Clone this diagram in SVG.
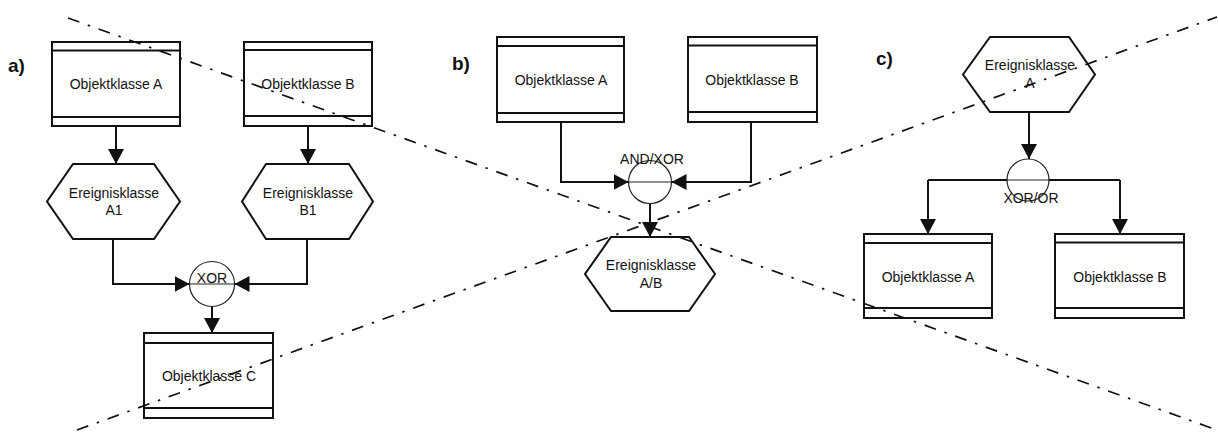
<svg xmlns="http://www.w3.org/2000/svg" width="1218" height="433" viewBox="0 0 1218 433">
<style>
.box{fill:#fff;stroke:#111;stroke-width:2}
.band{stroke:#111;stroke-width:1.8;fill:none}
.hex{fill:#fff;stroke:#111;stroke-width:2}
.t{font-family:"Liberation Sans",Arial,sans-serif;font-size:14px;fill:#111;text-anchor:middle}
.lbl{font-family:"Liberation Sans",Arial,sans-serif;font-size:19px;font-weight:bold;fill:#111}
.con{fill:none;stroke:#111;stroke-width:2}
.op{fill:#fff;stroke:#222;stroke-width:1.2}
.opl{stroke:#222;stroke-width:1}
.cut{fill:none;stroke:#111;stroke-width:1.7;stroke-dasharray:12 9 2.5 9}
</style>
<defs>
<marker id="arr" markerUnits="userSpaceOnUse" markerWidth="17" markerHeight="17" refX="15" refY="8" orient="auto">
<path d="M0,0 L15,8 L0,16 Z" fill="#111"/>
</marker>
</defs>

<text class="lbl" x="8" y="72">a)</text>
<text class="lbl" x="452" y="70">b)</text>
<text class="lbl" x="876" y="65">c)</text>

<g id="connectors">
<path class="con" d="M116,126 V164" marker-end="url(#arr)"/>
<path class="con" d="M308,126 V164" marker-end="url(#arr)"/>
<path class="con" d="M113,239 V284 H189.5" marker-end="url(#arr)"/>
<path class="con" d="M307,239 V284 H234.5" marker-end="url(#arr)"/>
<path class="con" d="M212,306.5 V333" marker-end="url(#arr)"/>
<path class="con" d="M561,122 V182 H628.5" marker-end="url(#arr)"/>
<path class="con" d="M751,122 V182 H671.5" marker-end="url(#arr)"/>
<path class="con" d="M650,203.5 V237" marker-end="url(#arr)"/>
<path class="con" d="M1029,112 V159" marker-end="url(#arr)"/>
<path class="con" d="M928,180 H1120"/>
<path class="con" d="M928,180 V234" marker-end="url(#arr)"/>
<path class="con" d="M1120,180 V234" marker-end="url(#arr)"/>
</g>

<g id="a_objA">
<rect class="box" x="52" y="42" width="128" height="84"/>
<path class="band" d="M52,50.5 H180 M52,117 H180"/>
<text class="t" x="116" y="89">Objektklasse A</text>
</g>
<g id="a_objB">
<rect class="box" x="244" y="42" width="128" height="84"/>
<path class="band" d="M244,50 H372 M244,116 H372"/>
<text class="t" x="308" y="89">Objektklasse B</text>
</g>
<g id="a_evA1">
<polygon class="hex" points="73,164 154,164 180,201.5 154,239 73,239 47,201.5"/>
<text class="t" x="114" y="198">Ereignisklasse</text>
<text class="t" x="114" y="215">A1</text>
</g>
<g id="a_evB1">
<polygon class="hex" points="266,164 349,164 373,201.5 349,239 266,239 242,201.5"/>
<text class="t" x="308" y="198">Ereignisklasse</text>
<text class="t" x="308" y="215">B1</text>
</g>
<g id="a_xor">
<circle class="op" cx="212" cy="284" r="22.5" stroke="#555"/>
<line class="opl" x1="189.5" y1="284" x2="234.5" y2="284"/>
<text class="t" x="212" y="283">XOR</text>
</g>
<g id="a_objC">
<rect class="box" x="144" y="333" width="129" height="85"/>
<path class="band" d="M144,343 H273 M144,408 H273"/>
<text class="t" x="209" y="381">Objektklasse C</text>
</g>

<g id="b_objA">
<rect class="box" x="497" y="37" width="127" height="85"/>
<path class="band" d="M497,46 H624 M497,113 H624"/>
<text class="t" x="561" y="85">Objektklasse A</text>
</g>
<g id="b_objB">
<rect class="box" x="688" y="37" width="129" height="85"/>
<path class="band" d="M688,45.5 H817 M688,112 H817"/>
<text class="t" x="752" y="85">Objektklasse B</text>
</g>
<g id="b_op">
<circle class="op" cx="650" cy="182" r="21.5"/>
<line class="opl" x1="628.5" y1="182" x2="671.5" y2="182"/>
<text class="t" x="652" y="164">AND/XOR</text>
</g>
<g id="b_evAB">
<polygon class="hex" points="611,237 689,237 715,274 689,311 611,311 585,274"/>
<text class="t" x="651" y="270">Ereignisklasse</text>
<text class="t" x="651" y="288">A/B</text>
</g>

<g id="c_evA">
<polygon class="hex" points="990,37 1069,37 1095,74.5 1069,112 990,112 963,74.5"/>
<text class="t" x="1030" y="70">Ereignisklasse</text>
<text class="t" x="1030" y="88">A</text>
</g>
<g id="c_op">
<circle class="op" cx="1028" cy="180" r="21"/>
<line class="opl" x1="1007" y1="180" x2="1049" y2="180"/>
<text class="t" x="1031" y="203">XOR/OR</text>
</g>
<g id="c_objA">
<rect class="box" x="864" y="234" width="128" height="84"/>
<path class="band" d="M864,243 H992 M864,308 H992"/>
<text class="t" x="928" y="282">Objektklasse A</text>
</g>
<g id="c_objB">
<rect class="box" x="1055" y="234" width="129" height="84"/>
<path class="band" d="M1055,242.5 H1184 M1055,308 H1184"/>
<text class="t" x="1120" y="282">Objektklasse B</text>
</g>

<g id="cutlines">
<line class="cut" x1="68" y1="18" x2="1217" y2="430"/>
<line class="cut" x1="77" y1="430" x2="1217" y2="17"/>
</g>
</svg>
